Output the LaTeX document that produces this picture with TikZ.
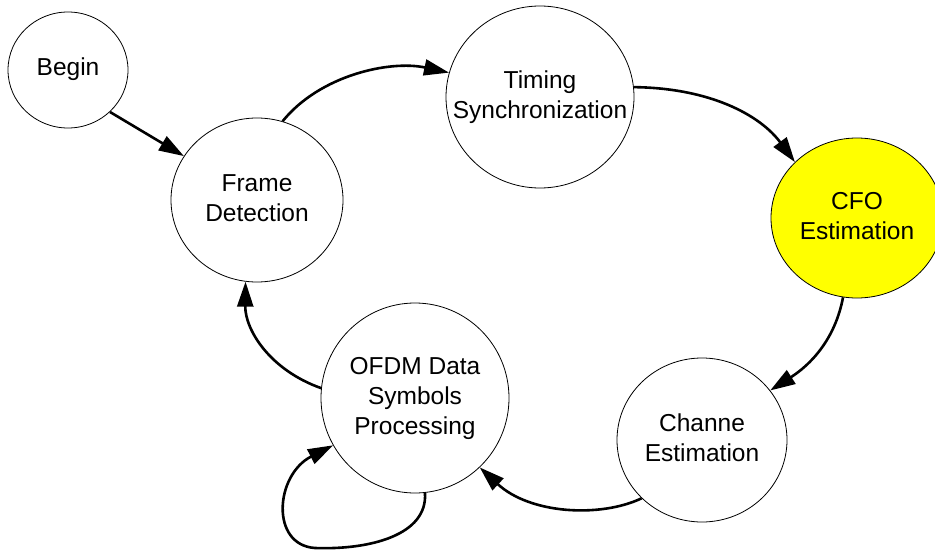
\documentclass[tikz,border=0pt]{standalone}
\usepackage{fontspec}
\setmainfont{Liberation Sans}
\usetikzlibrary{shapes.geometric,arrows.meta}
\definecolor{cfoyellow}{RGB}{255,255,0}
\newcommand{\statetext}[1]{\makebox[0pt]{\setlength{\tabcolsep}{0pt}\begin{tabular}{c}#1\end{tabular}}}
\tikzset{
  state/.style={ellipse, draw=black, line width=0.8pt, fill=white, inner sep=0pt,
    font=\fontsize{24.5}{30}\selectfont},
  conn/.style={line width=2.6pt, -{Triangle[length=25pt,width=16pt]}}
}
\begin{document}
\begin{tikzpicture}[x=1pt,y=-1pt]
\useasboundingbox (0,0) rectangle (935,551);
\node[state, minimum width=120pt, minimum height=116pt] (begin) at (68,70) {\statetext{Begin}};
\node[state, minimum width=172pt, minimum height=164pt] (frame) at (257,200) {\statetext{Frame\\Detection}};
\node[state, minimum width=188pt, minimum height=182pt] (timing) at (540,97) {\statetext{Timing\\Synchronization}};
\node[state, fill=cfoyellow, minimum width=172pt, minimum height=160pt] (cfo) at (857,218) {\statetext{CFO\\Estimation}};
\node[state, minimum width=170pt, minimum height=164pt] (chan) at (702,440) {\statetext{Channe\\Estimation}};
\node[state, minimum width=188pt, minimum height=190pt] (ofdm) at (415,398) {\statetext{OFDM Data\\Symbols\\Processing}};

\draw[conn] (begin.-45) -- (frame.149);
\draw[conn] (frame.72) .. controls (320,75) and (390,60) .. (timing.165);
\draw[conn] (timing.6) .. controls (710,88) and (760,115) .. (cfo.138);
\draw[conn] (cfo.260) .. controls (835,340) and (810,365) .. (chan.36);
\draw[conn] (chan.224) .. controls (600,518) and (530,514) .. (ofdm.313);
\draw[conn] (ofdm.174) .. controls (270,370) and (245,330) .. (frame.262);
\draw[conn] (ofdm.276) .. controls (428,535) and (370,550) .. (315,548)
  .. controls (270,545) and (275,475) .. (ofdm.210);
\end{tikzpicture}
\end{document}
